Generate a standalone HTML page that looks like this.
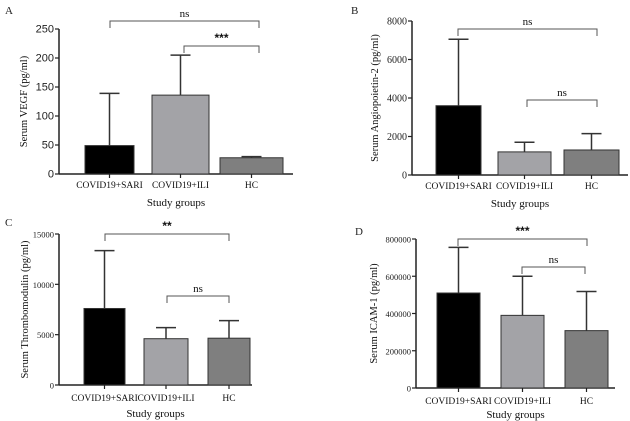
<!DOCTYPE html>
<html><head><meta charset="utf-8"><style>
html,body{margin:0;padding:0;background:#fff;}
svg{display:block;font-family:"Liberation Serif",serif;}
</style></head><body>
<svg id="fig" width="630" height="421" viewBox="0 0 630 421" xmlns="http://www.w3.org/2000/svg"></svg>
<script>
const categories = ["COVID19+SARI","COVID19+ILI","HC"];
const vegfMeans = [49, 136, 28];
const vegfErr = [139, 205, 30];
const vegfTicks = [0,50,100,150,200,250];
const angMeans = [3600, 1200, 1300];
const angErr = [7050, 1700, 2150];
const angTicks = [0,2000,4000,6000,8000];
const tmMeans = [7600, 4600, 4650];
const tmErr = [13350, 5700, 6400];
const tmTicks = [0,5000,10000,15000];
const icamMeans = [510000, 390000, 308000];
const icamErr = [755000, 600000, 518000];
const icamTicks = [0,200000,400000,600000,800000];
const colors = ["#000000","#a3a3a7","#7f7f7f"];

const NS="http://www.w3.org/2000/svg";
const svg=document.getElementById('fig');
function mk(tag,attrs,parent){const e=document.createElementNS(NS,tag);for(const k in attrs)e.setAttribute(k,attrs[k]);(parent||svg).appendChild(e);return e;}

const panels=[
 {id:'a',letter:'A',lx:5,ly:14,ax:59,y0:174,yTop:29,max:250,axEnd:293,bars:[[85,134],[152,209],[220,283]],means:vegfMeans,err:vegfErr,ticks:vegfTicks,tfs:11,
  title:'Serum VEGF (pg/ml)',tx:27,catY:188,sgY:206,
  br:[{y:21,x1:110,x2:259,lab:'ns',bold:false},{y:46,x1:184,x2:259,lab:'***',bold:true}]},
 {id:'b',letter:'B',lx:351,ly:14,ax:412,y0:175,yTop:21,max:8000,axEnd:628,bars:[[436,481],[498,551],[564,619]],means:angMeans,err:angErr,ticks:angTicks,tfs:10,
  title:'Serum Angiopoietin-2 (pg/ml)',tx:378,catY:189,sgY:207,
  br:[{y:29,x1:458,x2:597,lab:'ns',bold:false},{y:100,x1:527,x2:597,lab:'ns',bold:false}]},
 {id:'c',letter:'C',lx:5,ly:226,ax:59,y0:385,yTop:234,max:15000,axEnd:252,bars:[[84,125],[144,188],[208,250]],means:tmMeans,err:tmErr,ticks:tmTicks,tfs:8.5,
  title:'Serum Thrombomodulin (pg/ml)',tx:28,catY:401,sgY:417,
  br:[{y:234,x1:105,x2:229,lab:'**',bold:true},{y:296,x1:167,x2:229,lab:'ns',bold:false}]},
 {id:'d',letter:'D',lx:355,ly:235,ax:416,y0:388,yTop:239,max:800000,axEnd:615,bars:[[437,480],[501,544],[565,608]],means:icamMeans,err:icamErr,ticks:icamTicks,tfs:8.5,
  title:'Serum ICAM-1 (pg/ml)',tx:377,catY:404,sgY:418,
  br:[{y:239,x1:458,x2:587,lab:'***',bold:true},{y:267,x1:522,x2:585,lab:'ns',bold:false}]}
];

panels.forEach(p=>{
  const g=mk('g',{});
  
  
  const ys=v=>p.y0-(v/p.max)*(p.y0-p.yTop);
  const L=mk('text',{x:p.lx,y:p.ly,'font-size':11,fill:'#222'},g);L.textContent=p.letter;
  
  const ya=mk('line',{x1:p.ax,y1:p.yTop,x2:p.ax,y2:p.y0,stroke:'#222','stroke-width':1.5},g);
  
  const xa=mk('line',{x1:p.ax,y1:p.y0,x2:p.axEnd,y2:p.y0,stroke:'#222','stroke-width':1.5},g);
  
  p.ticks.forEach(t=>{
    const y=ys(t);
    mk('line',{x1:p.ax-4,y1:y,x2:p.ax,y2:y,stroke:'#222','stroke-width':1.2},g);
    const tl=mk('text',{x:p.ax-5,y:y+3.5,'font-size':p.tfs,'text-anchor':'end',fill:'#222',
      'font-family':p.id==='a'?'Liberation Sans, sans-serif':'Liberation Serif, serif'},g);
    tl.textContent=t;
    
  });
  p.bars.forEach((b,i)=>{
    const cx=(b[0]+b[1])/2;
    const ey=ys(p.err[i]);
    const el=mk('line',{x1:cx,y1:ys(p.means[i]),x2:cx,y2:ey,stroke:'#333','stroke-width':1.5},g);
    
    mk('line',{x1:cx-10,y1:ey,x2:cx+10,y2:ey,stroke:'#333','stroke-width':1.5},g);
    const r=mk('rect',{x:b[0],y:ys(p.means[i]),width:b[1]-b[0],height:p.y0-ys(p.means[i]),fill:colors[i],stroke:'#333','stroke-width':1},g);
    
    mk('line',{x1:cx,y1:p.y0,x2:cx,y2:p.y0+4,stroke:'#222','stroke-width':1.2},g);
    const c=mk('text',{x:cx,y:p.catY,'font-size':9.5,'text-anchor':'middle',fill:'#111'},g);
    c.textContent=categories[i];
    
  });
  const sg=mk('text',{x:(p.ax+p.axEnd)/2,y:p.sgY,'font-size':11,'text-anchor':'middle',fill:'#111'},g);
  sg.textContent='Study groups';
  
  const yt=mk('text',{x:0,y:0,'font-size':10.5,'text-anchor':'middle',fill:'#111',transform:`translate(${p.tx},${(p.yTop+p.y0)/2}) rotate(-90)`},g);
  yt.textContent=p.title;
  
  p.br.forEach(b=>{
    const pl=mk('polyline',{points:`${b.x1},${b.y+7} ${b.x1},${b.y} ${b.x2},${b.y} ${b.x2},${b.y+7}`,fill:'none',stroke:'#555','stroke-width':1},g);
    
    const t=mk('text',{x:(b.x1+b.x2)/2,y:b.y-4,'font-size':b.bold?12:11,'font-weight':b.bold?'bold':'normal','text-anchor':'middle',fill:'#111',
      'font-family':b.bold?'Liberation Sans, sans-serif':'Liberation Serif, serif'},g);
    t.textContent=b.lab;
    
  });
});
</script>
</body></html>
